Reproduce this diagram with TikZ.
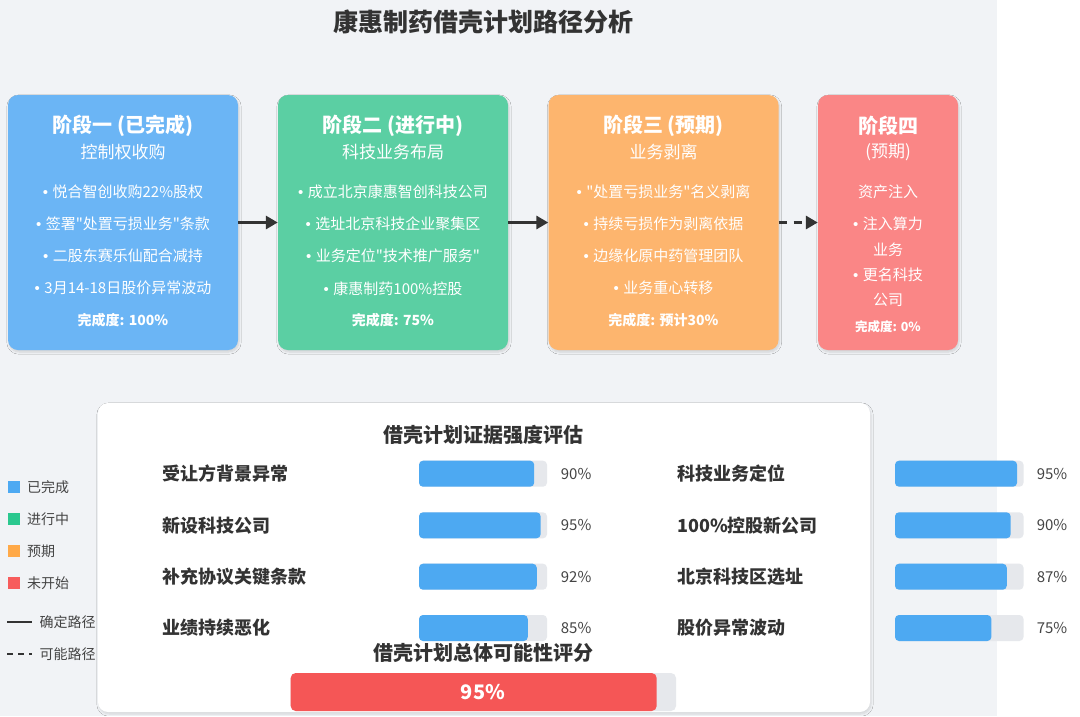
\documentclass[tikz,border=0pt]{standalone}
\usepackage{fontspec}
\setmainfont{Noto Sans CJK SC}[Ligatures=TeXOff]
\newfontfamily\bulfont{Liberation Sans}
\newcommand\bulit{{\bulfont •}\hspace{0.3em}}
\usetikzlibrary{arrows.meta,shadows.blur}
\definecolor{bggray}{HTML}{F1F3F6}
\definecolor{cone}{HTML}{6BB5F5}
\definecolor{ctwo}{HTML}{5BCFA3}
\definecolor{cthree}{HTML}{FDB56E}
\definecolor{cfour}{HTML}{FA8686}
\definecolor{lblue}{HTML}{4DA9F2}
\definecolor{lgreen}{HTML}{2BC88F}
\definecolor{lorange}{HTML}{FFA948}
\definecolor{lred}{HTML}{F75C5C}
\definecolor{barbg}{HTML}{E6E8EC}
\definecolor{scorered}{HTML}{F55656}
\definecolor{darktext}{HTML}{333333}
\definecolor{midtext}{HTML}{444444}
\newcommand\setfs[1]{\fontsize{#1}{#1}\selectfont}
\begin{document}
\begin{tikzpicture}[x=1pt,y=-1pt,
  stagebox/.style={rounded corners=10pt, inner sep=0pt, minimum width=230pt, minimum height=255pt,
    blur shadow={shadow xshift=1pt, shadow yshift=-2pt, shadow blur steps=6, shadow opacity=14}},
  sttitle/.style={font=\setfs{20}\bfseries, text=white, inner sep=0pt},
  stsub/.style={font=\setfs{17}, text=white, inner sep=0pt},
  stbul/.style={font=\setfs{15}, text=white, inner sep=0pt},
  stcmp/.style={font=\setfs{14}\bfseries, text=white, inner sep=0pt},
  conn/.style={line width=3pt, draw=darktext, -{Triangle[length=12pt,width=13pt]}},
  rowlab/.style={font=\setfs{18}\bfseries, text=darktext, inner sep=0pt, anchor=west},
  pct/.style={font=\setfs{15}, text=midtext, inner sep=0pt, anchor=west},
  legtext/.style={font=\setfs{14}, text=midtext, inner sep=0pt, anchor=west},
  sectitle/.style={font=\setfs{20}\bfseries, text=darktext, inner sep=0pt}
]
\useasboundingbox (0,0) rectangle (1080,716);
\fill[bggray] (0,0) rectangle (997,716);
\fill[white] (997,0) rectangle (1080,716);

% title
\node[font=\setfs{25}\bfseries, text=darktext, inner sep=0pt] (title) at (483,22) {康惠制药借壳计划路径分析};

% stage boxes
\node[stagebox, fill=cone] (s1) at (123,222.5) {};
\node[stagebox, fill=ctwo] (s2) at (393,222.5) {};
\node[stagebox, fill=cthree] (s3) at (663.5,222.5) {};
\node[stagebox, fill=cfour, minimum width=140pt] (s4) at (888,222.5) {};

% stage 1
\node[sttitle] (s1a) at (123,126) {阶段一 (已完成)};
\node[stsub] (s1b) at (123,152) {控制权收购};
\node[stbul] (s1c) at (123,191.5) {\bulit 悦合智创收购22\%股权};
\node[stbul] (s1d) at (123,224) {\bulit 签署"处置亏损业务"条款};
\node[stbul] (s1e) at (123,256) {\bulit 二股东赛乐仙配合减持};
\node[stbul] (s1f) at (123,288.3) {\bulit 3月14-18日股价异常波动};
\node[stcmp] (s1g) at (123,320) {完成度: 100\%};

% stage 2
\node[sttitle] (s2a) at (393,126) {阶段二 (进行中)};
\node[stsub] (s2b) at (393,152) {科技业务布局};
\node[stbul] (s2c) at (393,191.5) {\bulit 成立北京康惠智创科技公司};
\node[stbul] (s2d) at (393,224) {\bulit 选址北京科技企业聚集区};
\node[stbul] (s2e) at (393,256) {\bulit 业务定位"技术推广服务"};
\node[stbul] (s2f) at (393,288.3) {\bulit 康惠制药100\%控股};
\node[stcmp] (s2g) at (393,320) {完成度: 75\%};

% stage 3
\node[sttitle] (s3a) at (663.5,126) {阶段三 (预期)};
\node[stsub] (s3b) at (663.5,152) {业务剥离};
\node[stbul] (s3c) at (663.5,191.5) {\bulit "处置亏损业务"名义剥离};
\node[stbul] (s3d) at (663.5,224) {\bulit 持续亏损作为剥离依据};
\node[stbul] (s3e) at (663.5,256) {\bulit 边缘化原中药管理团队};
\node[stbul] (s3f) at (663.5,288.3) {\bulit 业务重心转移};
\node[stcmp] (s3g) at (663.5,320) {完成度: 预计30\%};

% stage 4
\node[sttitle] (s4a) at (888,126) {阶段四};
\node[stsub] (s4b) at (888,152) {(预期)};
\node[stbul] (s4c) at (888,191.5) {资产注入};
\node[stbul] (s4d) at (888,224) {\bulit 注入算力};
\node[stbul] (s4e) at (888,249.5) {业务};
\node[stbul] (s4f) at (888,274.5) {\bulit 更名科技};
\node[stbul] (s4g) at (888,300) {公司};
\node[stcmp, font=\setfs{12.5}\bfseries] (s4h) at (888,327) {完成度: 0\%};

% connectors
\draw[conn] (s1.east) -- (s2.west);
\draw[conn] (s2.east) -- (s3.west);
\draw[conn, dash pattern=on 8pt off 7pt] (s3.east) -- (s4.west);

% evidence panel
\fill[white, rounded corners=10pt,
  blur shadow={shadow xshift=1pt, shadow yshift=-2pt, shadow blur steps=6, shadow opacity=12}]
  (98,403) rectangle (870,712);
\node[sectitle] (ptitle) at (483.5,435) {借壳计划证据强度评估};

\foreach \lab/\p/\y [count=\k] in {受让方背景异常/90/473.7, 新设科技公司/95/525.3, 补充协议关键条款/92/576.7, 业绩持续恶化/85/628} {
  \node[rowlab] (ll\k) at (162,\y) {\lab};
  \fill[barbg, rounded corners=4pt] (419,\y-13) rectangle (547,\y+13);
  \fill[lblue, rounded corners=4pt] (419,\y-13) rectangle ({419+1.28*\p},\y+13);
  \node[pct] (lp\k) at (560.7,\y) {\p\%};
}
\foreach \lab/\p/\y [count=\k] in {科技业务定位/95/473.7, 100\%控股新公司/90/525.3, 北京科技区选址/87/576.7, 股价异常波动/75/628} {
  \node[rowlab] (rl\k) at (677,\y) {\lab};
  \fill[barbg, rounded corners=4pt] (895,\y-13) rectangle (1023.5,\y+13);
  \fill[lblue, rounded corners=4pt] (895,\y-13) rectangle ({895+1.285*\p},\y+13);
  \node[pct] (rp\k) at (1036.6,\y) {\p\%};
}

% overall score
\node[sectitle] (stitle) at (483,653) {借壳计划总体可能性评分};
\fill[barbg, rounded corners=5pt] (290.7,673) rectangle (676,711);
\fill[scorered, rounded corners=5pt] (290.7,673) rectangle (656.7,711);
\node[font=\setfs{20}\bfseries, text=white, inner sep=0pt] (score) at (483,692) {95\%};

% legend
\fill[lblue] (7.5,481) rectangle (19.5,493);
\node[legtext] (lg1) at (27,487) {已完成};
\fill[lgreen] (7.5,513) rectangle (19.5,525);
\node[legtext] (lg2) at (27,519) {进行中};
\fill[lorange] (7.5,545) rectangle (19.5,557);
\node[legtext] (lg3) at (27,551) {预期};
\fill[lred] (7.5,577) rectangle (19.5,589);
\node[legtext] (lg4) at (27,583) {未开始};
\coordinate (la) at (7,622);
\coordinate (lb) at (32,622);
\draw[line width=2pt, darktext] (la) -- (lb);
\node[legtext] (lg5) at (39.5,622) {确定路径};
\coordinate (lc) at (7,654);
\coordinate (ld) at (32,654);
\draw[line width=2pt, darktext, dash pattern=on 6pt off 5pt] (lc) -- (ld);
\node[legtext] (lg6) at (39.5,654) {可能路径};
\end{tikzpicture}
\end{document}
